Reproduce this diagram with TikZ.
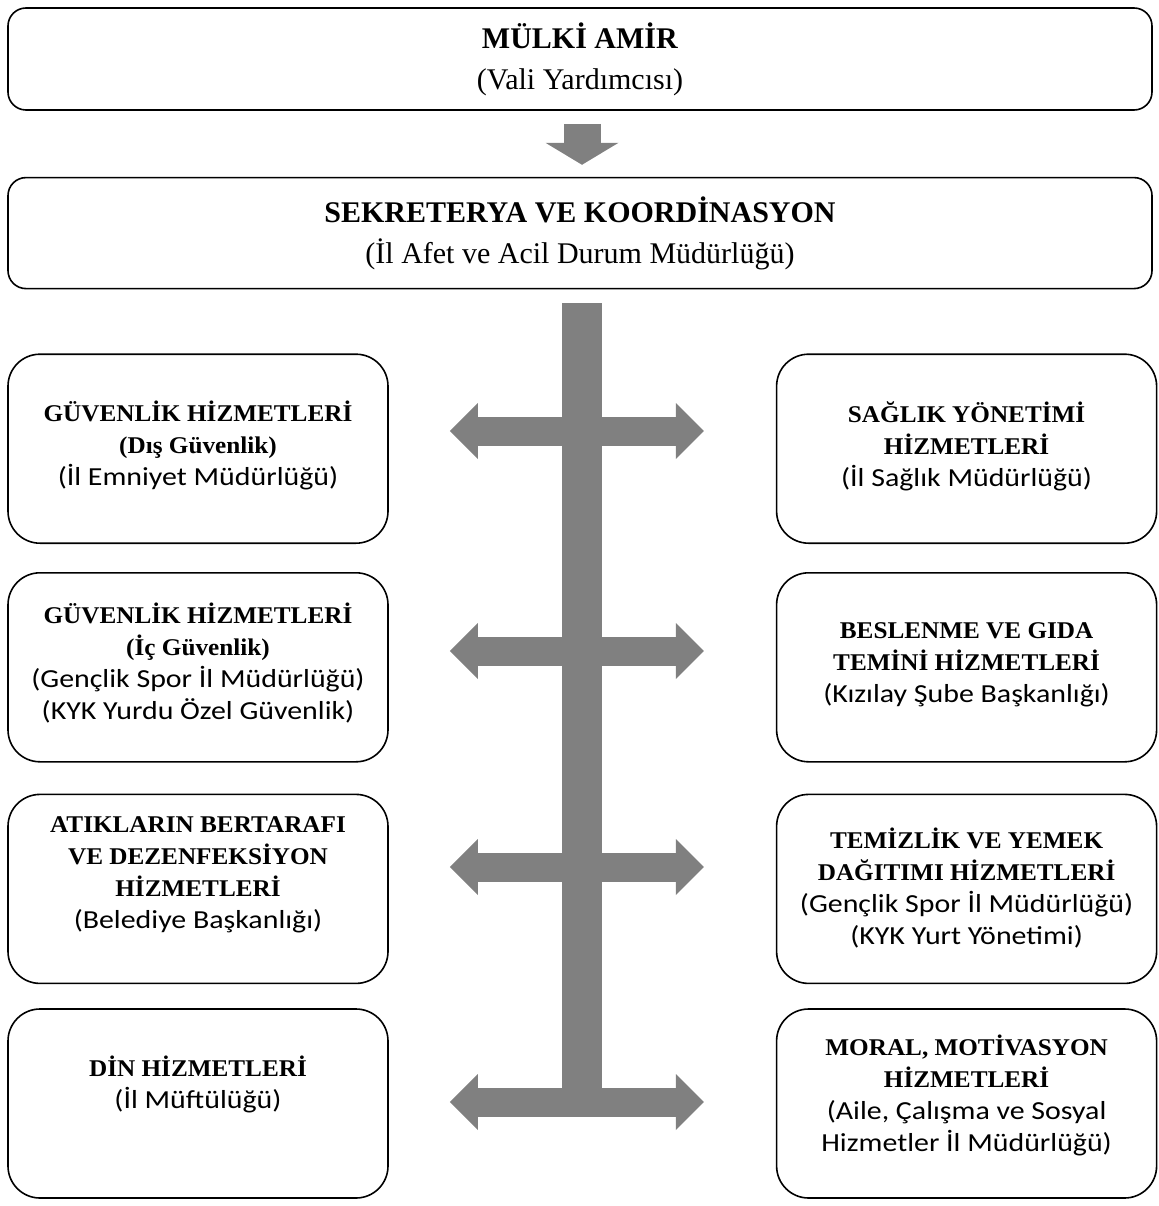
\documentclass[tikz,border=0pt]{standalone}
\usepackage{fontspec}
\setmainfont{Liberation Serif}
\newfontfamily\hdfont{Liberation Serif}[FakeStretch=1.05]
\newfontfamily\subfont{Carlito}[FakeStretch=1.15]
\usetikzlibrary{arrows.meta,positioning}
\colorlet{bargray}{black!50}
\newcommand{\hdtxt}[1]{{\hdfont\bfseries\fontsize{24}{32}\selectfont #1}}
\newcommand{\subtxt}[1]{{\subfont\fontsize{26}{32}\selectfont #1}}
\newcommand{\lift}[1]{\rule[-#1]{0pt}{0pt}}
\tikzset{
  box/.style={draw, line width=1.6pt, rounded corners=32pt, minimum width=380pt,
    minimum height=189pt, align=center, inner sep=0pt, font=\fontsize{24}{32}\selectfont},
  headbox/.style={draw, line width=1.6pt, rounded corners=18pt, minimum width=1144pt,
    align=center, inner sep=0pt, font=\fontsize{30}{41}\selectfont},
  downarrow/.style={draw=bargray, line width=37pt,
    -{Triangle[width=73pt,length=22pt,line width=0pt]}},
  dblarrow/.style={draw=bargray, line width=29pt,
    {Triangle[width=56pt,length=28pt,line width=0pt]}-{Triangle[width=56pt,length=28pt,line width=0pt]}},
  bar/.style={draw=bargray, line width=40pt}
}
\begin{document}
\begin{tikzpicture}[x=1pt,y=-1pt,node distance=28pt]
    \useasboundingbox (0,0) rectangle (1158,1206);

    \node[headbox, minimum height=102pt] (amir) at (580,59) {\textbf{MÜLKİ AMİR}\\(Vali Yardımcısı)\lift{6pt}};
    \node[headbox, minimum height=111pt, below=66pt of amir] (sek) {\textbf{SEKRETERYA VE KOORDİNASYON}\\(İl Afet ve Acil Durum Müdürlüğü)};

    \node[box, below right=64pt and 0pt of sek.south west] (g1) {\hdtxt{GÜVENLİK HİZMETLERİ}\\\hdtxt{(Dış Güvenlik)}\\\subtxt{(İl Emniyet Müdürlüğü)}\lift{10pt}};
    \node[box, below=of g1] (g2) {\hdtxt{GÜVENLİK HİZMETLERİ}\\\hdtxt{(İç Güvenlik)}\\\subtxt{(Gençlik Spor İl Müdürlüğü)}\\\subtxt{(KYK Yurdu Özel Güvenlik)}\lift{13pt}};
    \node[box, below=31pt of g2] (g3) {\hdtxt{ATIKLARIN BERTARAFI}\\\hdtxt{VE DEZENFEKSİYON}\\\hdtxt{HİZMETLERİ}\\\subtxt{(Belediye Başkanlığı)}\lift{32pt}};
    \node[box, below=24pt of g3] (g4) {\hdtxt{DİN HİZMETLERİ}\\\subtxt{(İl Müftülüğü)}\lift{43pt}};

    \node[box, right=387pt of g1] (s1) {\hdtxt{SAĞLIK YÖNETİMİ}\\\hdtxt{HİZMETLERİ}\\\subtxt{(İl Sağlık Müdürlüğü)}\lift{9pt}};
    \node[box, right=387pt of g2] (s2) {\hdtxt{BESLENME VE GIDA}\\\hdtxt{TEMİNİ HİZMETLERİ}\\\subtxt{(Kızılay Şube Başkanlığı)}\lift{9pt}};
    \node[box, right=387pt of g3] (s3) {\hdtxt{TEMİZLİK VE YEMEK}\\\hdtxt{DAĞITIMI HİZMETLERİ}\\\subtxt{(Gençlik Spor İl Müdürlüğü)}\\\subtxt{(KYK Yurt Yönetimi)}\lift{5pt}};
    \node[box, right=387pt of g4] (s4) {\hdtxt{MORAL, MOTİVASYON}\\\hdtxt{HİZMETLERİ}\\\subtxt{(Aile, Çalışma ve Sosyal}\\\subtxt{Hizmetler İl Müdürlüğü)}\lift{21pt}};

    \coordinate (j1) at (582,431);
    \coordinate (j2) at (582,651);
    \coordinate (j3) at (582,867);
    \coordinate (j4) at (582,1102);

    \draw[downarrow] ([yshift=-13pt]amir.south -| j1) -- ([yshift=12pt]sek.north -| j1);
    \draw[bar] (sek.south -| j4) ++(0,14) -- (j4);
    \draw[dblarrow] ([xshift=61pt]g1.east |- j1) -- ([xshift=-72pt]s1.west |- j1);
    \draw[dblarrow] ([xshift=61pt]g2.east |- j2) -- ([xshift=-72pt]s2.west |- j2);
    \draw[dblarrow] ([xshift=61pt]g3.east |- j3) -- ([xshift=-72pt]s3.west |- j3);
    \draw[dblarrow] ([xshift=61pt]g4.east |- j4) -- ([xshift=-72pt]s4.west |- j4);
\end{tikzpicture}
\end{document}
